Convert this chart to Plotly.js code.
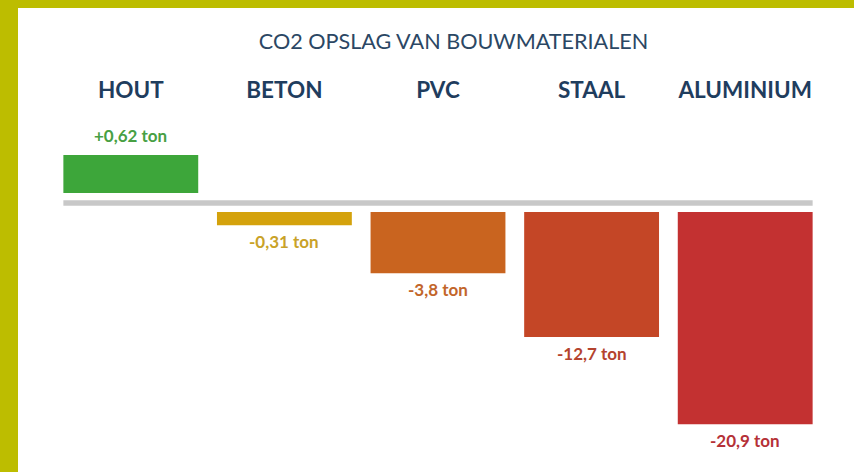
<!DOCTYPE html>
<html>
<head>
<meta charset="utf-8">
<script src="https://cdn.plot.ly/plotly-3.0.1.min.js"></script>
<style>
  html, body { margin: 0; padding: 0; width: 854px; height: 472px; background: #bdbd00; overflow: hidden; }
  #chart { position: absolute; left: 18px; top: 8px; width: 836px; height: 464px; background: #ffffff; }
</style>
</head>
<body>
<div id="chart"></div>
<script>
// Categories (materials)
const materials = ['HOUT', 'BETON', 'PVC', 'STAAL', 'ALUMINIUM'];
// CO2 storage per material, tonnes (as labelled)
const co2Tons = [0.62, -0.31, -3.8, -12.7, -20.9];
// Drawn bar lengths read off the infographic (the graphic is not to scale), in pixel units
const barLength = [38, -13.3, -61.3, -125, -212.3];
// Colours
const barColors = ['#3da63a', '#d4a20c', '#c9641f', '#c44626', '#c33131'];
const labelColors = ['#48a043', '#c9a228', '#c2652a', '#b4432e', '#b53137'];

const gapFromAxis = barLength.map(v => v > 0 ? 10 : -9);
const bargap = 0.122;

function fmt(v) {
  const s = String(Math.abs(v)).replace('.', ',');
  return (v > 0 ? '+' : '-') + s + ' ton';
}

const trace = {
  type: 'bar',
  x: materials,
  y: barLength,
  base: gapFromAxis,
  marker: { color: barColors, line: { width: 0 } },
  hoverinfo: 'skip',
  showlegend: false
};

const annotations = materials.map((m, i) => {
  const end = gapFromAxis[i] + barLength[i];
  const pos = barLength[i] > 0;
  return {
    x: m, y: end, xref: 'x', yref: 'y',
    text: fmt(co2Tons[i]),
    showarrow: false,
    yanchor: pos ? 'bottom' : 'top',
    yshift: pos ? 7 : -4,
    font: { family: 'Lato, "Open Sans", sans-serif', size: 17, color: labelColors[i], weight: 'bold' }
  };
});

const layout = {
  width: 836, height: 464,
  paper_bgcolor: '#ffffff', plot_bgcolor: '#ffffff',
  margin: { l: 35.6, r: 31.6, t: 98, b: 9 },
  bargap: bargap,
  title: {
    text: 'CO2 OPSLAG VAN BOUWMATERIALEN',
    xref: 'container', yref: 'container',
    x: 0.521, y: 0.929, xanchor: 'center', yanchor: 'middle',
    font: { family: 'Lato, "Open Sans", sans-serif', size: 21.6, color: '#2b4764' }
  },
  xaxis: {
    side: 'top', type: 'category',
    showgrid: false, zeroline: false, showline: false, ticks: '',
    tickfont: { family: 'Lato, "Open Sans", sans-serif', size: 22.5, color: '#1f3d5e', weight: 'bold' },
    ticklabelstandoff: 3
  },
  yaxis: {
    range: [-260, 97], showgrid: false, zeroline: false, showline: false,
    showticklabels: false, ticks: ''
  },
  shapes: [{
    type: 'line', xref: 'x', yref: 'y',
    x0: -0.5 + bargap / 2, x1: materials.length - 0.5 - bargap / 2,
    y0: 0, y1: 0,
    line: { color: '#c8c8c8', width: 5.5 },
    layer: 'below'
  }],
  annotations: annotations
};

Plotly.newPlot('chart', [trace], layout, { staticPlot: true, displayModeBar: false });
</script>
</body>
</html>
